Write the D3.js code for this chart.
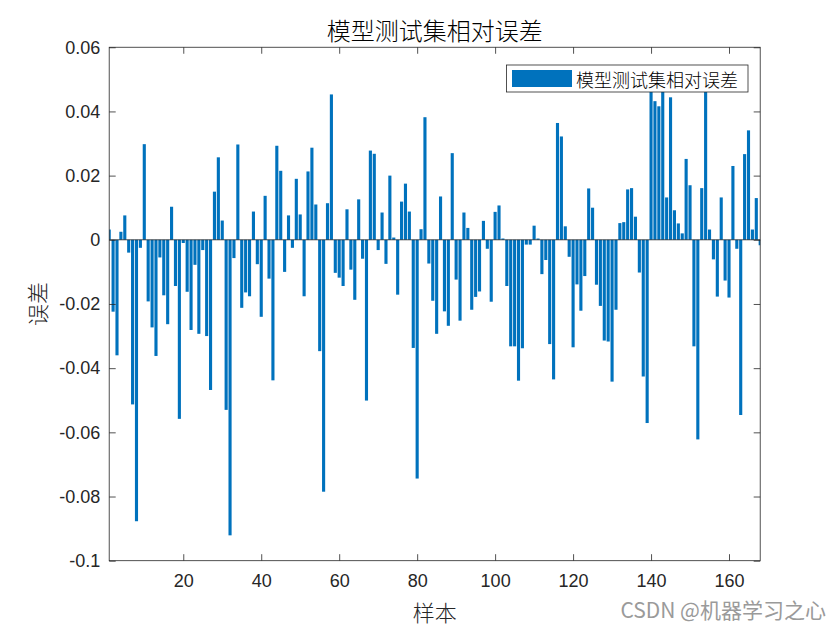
<!DOCTYPE html>
<html>
<head>
<meta charset="utf-8">
<script src="https://cdn.jsdelivr.net/npm/d3@7"></script>
<style>
  body { margin: 0; background: #fff; }
  svg { display: block; }
  .cjk { font-family: "Noto Sans CJK SC", "Noto Sans", sans-serif; font-weight: 300; }
  .tick text { font-family: "Liberation Sans", Arial, sans-serif; font-size: 18px; fill: #262626; }
</style>
</head>
<body>
<div id="chart"></div>
<script>
// relative error of each test sample
const errors = [
  0.0032, -0.0224, -0.0360, 0.0025, 0.0076, -0.0040, -0.0513, -0.0877, -0.0025, 0.0298,
  -0.0192, -0.0273, -0.0362, -0.0055, -0.0173, -0.0263, 0.0103, -0.0144, -0.0558, -0.0010,
  -0.0162, -0.0281, -0.0078, -0.0293, -0.0032, -0.0300, -0.0468, 0.0150, 0.0257, 0.0060,
  -0.0530, -0.0921, -0.0057, 0.0297, -0.0212, -0.0164, -0.0176, 0.0088, -0.0076, -0.0240,
  0.0137, -0.0121, -0.0438, 0.0293, 0.0215, -0.0100, 0.0076, -0.0025, 0.0190, 0.0079,
  -0.0176, 0.0213, 0.0287, 0.0110, -0.0347, -0.0785, 0.0114, 0.0453, -0.0103, -0.0118,
  -0.0144, 0.0095, -0.0093, -0.0187, 0.0126, -0.0059, -0.0501, 0.0278, 0.0268, -0.0032,
  0.0085, -0.0075, 0.0200, 0.0007, -0.0171, 0.0119, 0.0175, 0.0088, -0.0337, -0.0744,
  0.0033, 0.0382, -0.0074, -0.0190, -0.0293, 0.0135, -0.0223, -0.0268, 0.0270, -0.0124,
  -0.0252, 0.0085, 0.0037, -0.0218, -0.0178, -0.0161, 0.0059, -0.0028, -0.0193, 0.0087,
  0.0107, 0.0004, -0.0144, -0.0332, -0.0332, -0.0439, -0.0338, -0.0015, -0.0015, 0.0044,
  0.0004, -0.0107, -0.0063, -0.0325, -0.0435, 0.0364, 0.0322, 0.0042, -0.0053, -0.0335,
  -0.0139, -0.0221, -0.0113, 0.0160, 0.0100, -0.0140, -0.0206, -0.0314, -0.0317, -0.0442,
  -0.0218, 0.0052, 0.0055, 0.0157, 0.0161, 0.0072, -0.0102, -0.0426, -0.0571, 0.0490,
  0.0432, 0.0416, 0.0500, 0.0132, 0.0444, 0.0092, 0.0051, 0.0020, 0.0252, 0.0170,
  -0.0332, -0.0622, 0.0161, 0.0480, 0.0032, -0.0061, -0.0177, 0.0132, -0.0127, -0.0180,
  0.0230, -0.0028, -0.0546, 0.0267, 0.0341, 0.0032, 0.0130, -0.0017
];
const samples = errors.map((d, i) => i + 1);
const xTicks = [20, 40, 60, 80, 100, 120, 140, 160];
const yTicks = [0.06, 0.04, 0.02, 0, -0.02, -0.04, -0.06, -0.08, -0.1];
const yTickLabels = ['0.06', '0.04', '0.02', '0', '-0.02', '-0.04', '-0.06', '-0.08', '-0.1'];
const titleText = '模型测试集相对误差';
const xLabel = '样本';
const yLabel = '误差';
const legendText = '模型测试集相对误差';
const watermark = 'CSDN @机器学习之心';

const W = 840, H = 630;
const plotL = 109.2, plotR = 760.2, plotT = 47.25, plotB = 560.7;
const axisColor = '#262626', barColor = '#0072BD';
const tickLen = 6.5;

const svg = d3.select('#chart').append('svg').attr('width', W).attr('height', H);

const x = d3.scaleLinear().domain([1, samples.length]).range([plotL, plotR]);
const y = d3.scaleLinear().domain([-0.1, 0.06]).range([plotB, plotT]);
const barW = (x(2) - x(1)) * 0.8;

svg.append('defs').append('clipPath').attr('id', 'plot-clip')
    .append('rect').attr('x', plotL).attr('y', plotT)
    .attr('width', plotR - plotL).attr('height', plotB - plotT);

// bars
svg.append('g').attr('clip-path', 'url(#plot-clip)').selectAll('rect')
    .data(errors).enter().append('rect')
    .attr('x', (d, i) => x(samples[i]) - barW / 2)
    .attr('y', d => y(Math.max(0, d)))
    .attr('width', barW)
    .attr('height', d => Math.abs(y(d) - y(0)))
    .attr('fill', barColor);

// baseline
svg.append('line').attr('x1', plotL).attr('x2', plotR)
    .attr('y1', y(0)).attr('y2', y(0))
    .attr('stroke', axisColor).attr('stroke-width', 0.8);

// axes with inward ticks on all four sides
const fmtY = d => yTickLabels[yTicks.indexOf(d)];
function styleAxis(g) {
    g.select('.domain').remove();
    g.selectAll('.tick line').attr('stroke', axisColor).attr('stroke-width', 0.8);
}
svg.append('g').attr('transform', `translate(0,${plotB})`)
    .call(d3.axisBottom(x).tickValues(xTicks).tickSizeInner(-tickLen).tickSizeOuter(0).tickPadding(14))
    .call(styleAxis);
svg.append('g').attr('transform', `translate(0,${plotT})`)
    .call(d3.axisTop(x).tickValues(xTicks).tickSizeInner(-tickLen).tickSizeOuter(0).tickFormat(''))
    .call(styleAxis);
svg.append('g').attr('transform', `translate(${plotL},0)`)
    .call(d3.axisLeft(y).tickValues(yTicks).tickSizeInner(-tickLen).tickSizeOuter(0).tickPadding(9).tickFormat(fmtY))
    .call(styleAxis);
svg.append('g').attr('transform', `translate(${plotR},0)`)
    .call(d3.axisRight(y).tickValues(yTicks).tickSizeInner(-tickLen).tickSizeOuter(0).tickFormat(''))
    .call(styleAxis);

svg.append('rect').attr('x', plotL).attr('y', plotT)
    .attr('width', plotR - plotL).attr('height', plotB - plotT)
    .attr('fill', 'none').attr('stroke', axisColor).attr('stroke-width', 0.8);

// legend
const lg = svg.append('g');
lg.append('rect').attr('x', 506.5).attr('y', 65).attr('width', 241.5).attr('height', 27)
    .attr('fill', '#fff').attr('stroke', axisColor).attr('stroke-width', 0.8);
lg.append('rect').attr('x', 512).attr('y', 70).attr('width', 60).attr('height', 17).attr('fill', barColor);
lg.append('text').attr('class', 'cjk').attr('x', 576).attr('y', 78.5)
    .attr('dominant-baseline', 'central').attr('font-size', 18).attr('fill', '#000')
    .text(legendText);

// title and axis labels
svg.append('text').attr('class', 'cjk').attr('x', (plotL + plotR) / 2).attr('y', 29)
    .attr('text-anchor', 'middle').attr('dominant-baseline', 'central')
    .attr('font-size', 24).attr('fill', '#000').text(titleText);
svg.append('text').attr('class', 'cjk').attr('x', (plotL + plotR) / 2).attr('y', 611)
    .attr('text-anchor', 'middle').attr('dominant-baseline', 'central')
    .attr('font-size', 22).attr('fill', '#262626').text(xLabel);
svg.append('text').attr('class', 'cjk')
    .attr('transform', `translate(36,${(plotT + plotB) / 2}) rotate(-90)`)
    .attr('text-anchor', 'middle').attr('dominant-baseline', 'central')
    .attr('font-size', 22).attr('fill', '#262626').text(yLabel);

// watermark
svg.append('text').attr('x', 826).attr('y', 609)
    .attr('text-anchor', 'end').attr('dominant-baseline', 'central')
    .attr('font-family', '"Noto Sans CJK SC", "Liberation Sans", sans-serif')
    .attr('font-size', 21).attr('fill', '#9a9a9a')
    .text(watermark);
</script>
</body>
</html>
